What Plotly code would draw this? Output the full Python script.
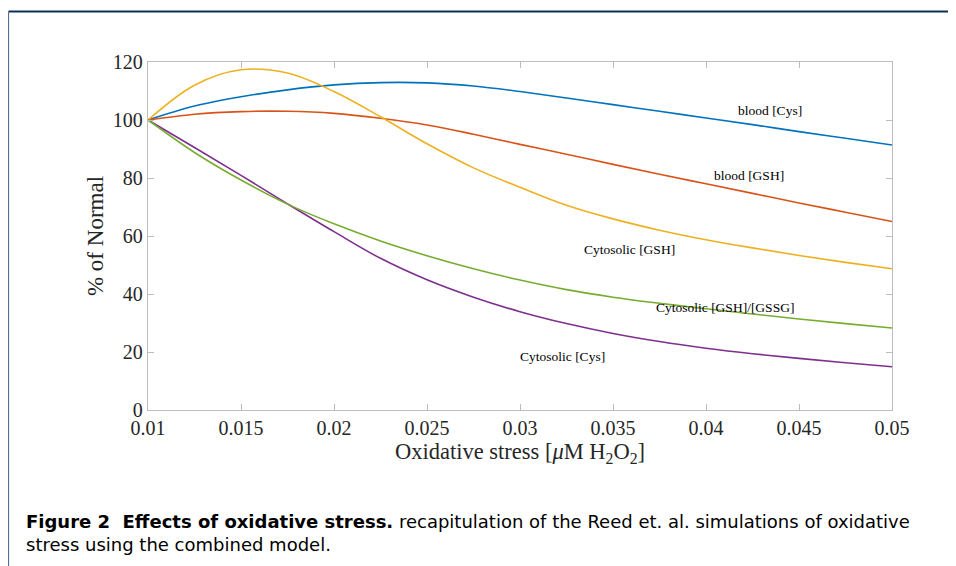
import plotly.graph_objects as go

x_stress = [0.010, 0.0125, 0.015, 0.0175, 0.020, 0.0225, 0.025, 0.0275, 0.030,
            0.0325, 0.035, 0.0375, 0.040, 0.0425, 0.045, 0.0475, 0.050]

blood_cys = [100, 104.8, 108.0, 110.4, 112.1, 112.9, 112.8, 111.7, 109.8,
             107.6, 105.3, 103.0, 100.7, 98.4, 96.0, 93.7, 91.4]
blood_gsh = [100, 102.0, 102.9, 103.0, 102.3, 100.6, 98.3, 95.1, 91.6,
             88.2, 84.7, 81.3, 78.0, 74.7, 71.4, 68.2, 65.0]
cyto_gsh = [100, 112.0, 117.3, 116.2, 109.8, 101.1, 91.8, 83.5, 76.8,
            70.6, 65.9, 62.0, 58.7, 55.9, 53.3, 50.9, 48.7]
cyto_cys = [100, 90.5, 80.9, 71.1, 61.5, 52.3, 44.9, 38.9, 33.9,
            29.8, 26.4, 23.6, 21.3, 19.4, 17.8, 16.3, 14.9]
cyto_ratio = [100, 88.8, 79.3, 71.0, 64.2, 58.3, 53.2, 48.7, 44.8,
              41.5, 38.9, 36.8, 34.9, 33.1, 31.4, 29.8, 28.3]

series_names = ["blood [Cys]", "blood [GSH]", "Cytosolic [GSH]",
                "Cytosolic [Cys]", "Cytosolic [GSH]/[GSSG]"]
series_values = [blood_cys, blood_gsh, cyto_gsh, cyto_cys, cyto_ratio]
colors = ["#0072BD", "#D95319", "#EDB120", "#7E2F8E", "#77AC30"]

x_ticks = [0.01, 0.015, 0.02, 0.025, 0.03, 0.035, 0.04, 0.045, 0.05]
x_ticklabels = ["0.01", "0.015", "0.02", "0.025", "0.03", "0.035", "0.04", "0.045", "0.05"]
y_ticks = [0, 20, 40, 60, 80, 100, 120]

fig = go.Figure()
for name, vals, col in zip(series_names, series_values, colors):
    fig.add_trace(go.Scatter(x=x_stress, y=vals, mode="lines", name=name,
                             line=dict(color=col, width=1.6, shape="spline", smoothing=1.0),
                             showlegend=False, hoverinfo="skip"))

serif = "Liberation Serif, Times New Roman, serif"
label_pos = {
    "blood [Cys]": (0.04344, 103.4),
    "blood [GSH]": (0.04231, 81.0),
    "Cytosolic [GSH]": (0.03586, 55.5),
    "Cytosolic [GSH]/[GSSG]": (0.04102, 35.5),
    "Cytosolic [Cys]": (0.03231, 18.3),
}
for name in series_names:
    lx, ly = label_pos[name]
    fig.add_annotation(x=lx, y=ly, text=name, showarrow=False,
                       font=dict(family=serif, size=13.5, color="#000000"),
                       xanchor="center", yanchor="middle")

axis_common = dict(showline=True, linecolor="#BDBDBD", linewidth=1.3, mirror="ticks",
                   ticks="inside", ticklen=6, tickcolor="#BDBDBD", tickwidth=1,
                   showgrid=False, zeroline=False,
                   tickfont=dict(family=serif, size=20, color="#262626"))

fig.update_xaxes(range=[0.01, 0.05], tickvals=x_ticks, ticktext=x_ticklabels,
                 title=dict(text="Oxidative stress [<i>μ</i>M H<sub>2</sub>O<sub>2</sub>]",
                            font=dict(family=serif, size=22.5, color="#262626"), standoff=4),
                 **axis_common)
fig.update_yaxes(range=[0, 120], tickvals=y_ticks,
                 title=dict(text="% of Normal",
                            font=dict(family=serif, size=23, color="#262626"), standoff=2),
                 **axis_common)

# page frame lines (paper coordinates relative to plot area)
fig.add_shape(type="line", xref="paper", yref="paper", x0=-0.1875, x1=1.09,
              y0=1.1451, y1=1.1451, line=dict(color="#0B2F57", width=2))
fig.add_shape(type="line", xref="paper", yref="paper", x0=-0.1875, x1=-0.1875,
              y0=1.1451, y1=-0.47, line=dict(color="#4F6F8F", width=1.2))

caption = ("<b>Figure 2  Effects of oxidative stress.</b> recapitulation of the Reed et. al. simulations of oxidative"
           "<br>stress using the combined model.")
fig.add_annotation(xref="paper", yref="paper", x=(24 - 148) / 744, y=(410 - 509) / 348,
                   text=caption, showarrow=False, xanchor="left", yanchor="top", align="left",
                   font=dict(family="DejaVu Sans, sans-serif", size=18, color="#000000"))

# the page body has an 8px margin, so the figure is shrunk by that amount
fig.update_layout(width=948, height=558, margin=dict(l=140, r=64, t=54, b=156),
                  paper_bgcolor="white", plot_bgcolor="white")

fig.write_html("out.html")
